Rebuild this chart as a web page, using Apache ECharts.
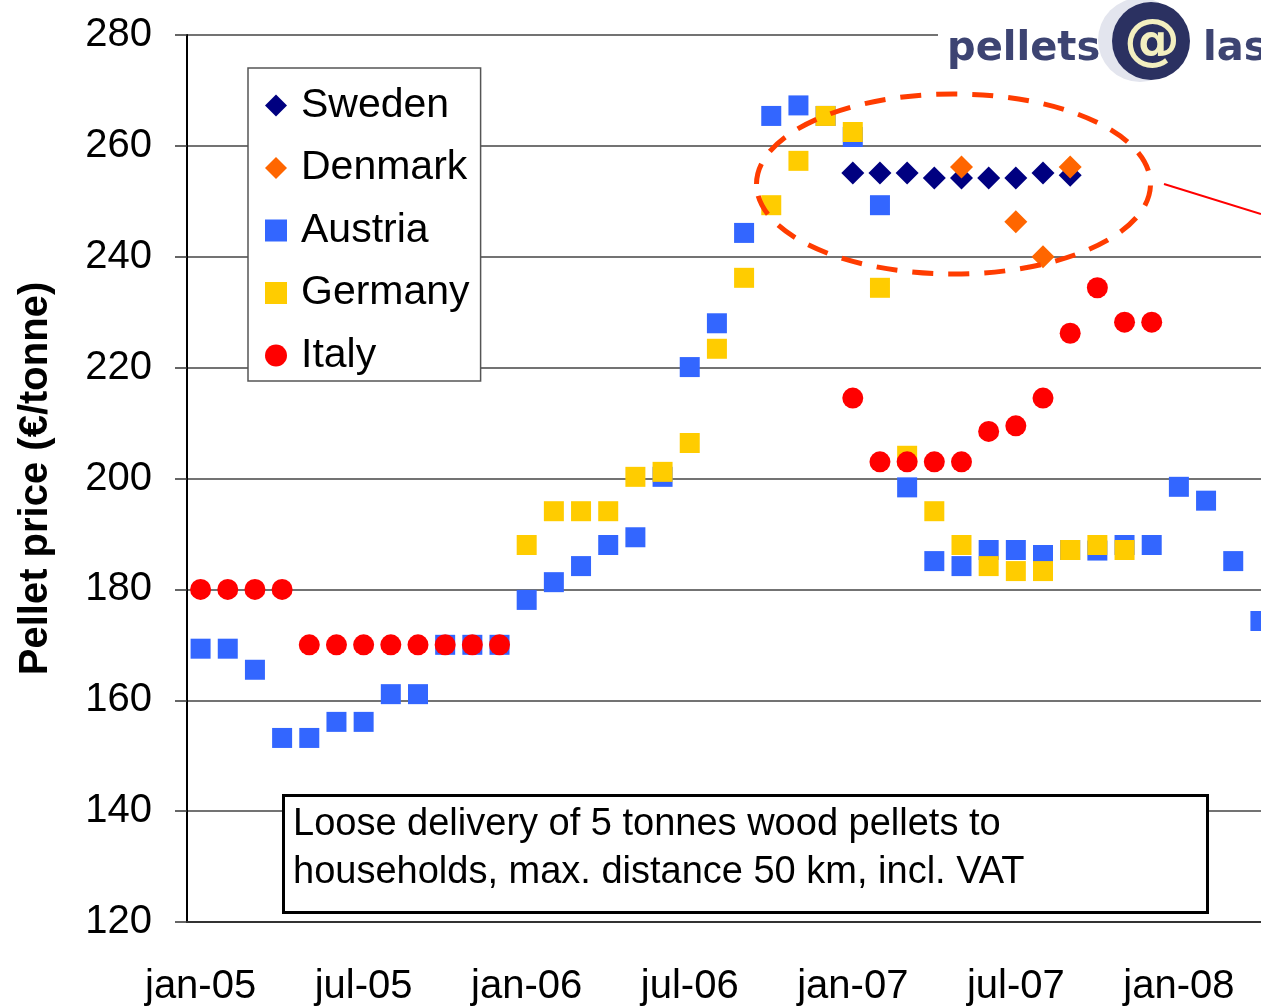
<!DOCTYPE html>
<html>
<head>
<meta charset="utf-8">
<title>Pellet price</title>
<script src="https://cdn.jsdelivr.net/npm/echarts@6/dist/echarts.min.js"></script>
<style>
html,body{margin:0;padding:0;background:#fff;}
#main{width:1261px;height:1007px;}
</style>
</head>
<body>
<div id="main"></div>
<script>
//月份类目
var months = ['jan-05','feb-05','mar-05','apr-05','may-05','jun-05','jul-05','aug-05','sep-05','oct-05','nov-05','dec-05',
	'jan-06','feb-06','mar-06','apr-06','may-06','jun-06','jul-06','aug-06','sep-06','oct-06','nov-06','dec-06',
	'jan-07','feb-07','mar-07','apr-07','may-07','jun-07','jul-07','aug-07','sep-07','oct-07','nov-07','dec-07',
	'jan-08','feb-08','mar-08','apr-08'];
//y轴刻度
var yTicks = [120, 140, 160, 180, 200, 220, 240, 260, 280];

//各国价格 (€/tonne)，null = 无数据
var sweden = [null,null,null,null,null,null,null,null,null,null,null,null,
	null,null,null,null,null,null,null,null,null,null,null,null,
	255.1,255.1,255.1,254.2,254.2,254.2,254.2,255.1,254.7,null,null,null,
	null,null,null,null];
var denmark = [null,null,null,null,null,null,null,null,null,null,null,null,
	null,null,null,null,null,null,null,null,null,null,null,null,
	null,null,null,null,256.2,null,246.3,240.0,256.2,null,null,null,
	null,null,null,null];
var austria = [169.3,169.3,165.5,153.2,153.2,156.1,156.1,161.1,161.1,170,170,170,
	178.1,181.3,184.2,188.0,189.4,200.3,220.1,228.0,244.3,265.4,267.3,265.4,
	261.6,249.3,198.4,185.1,184.2,187.1,187.1,186.2,187.1,187.0,188.0,188.0,
	198.5,196.0,185.1,174.3];
var germany = [null,null,null,null,null,null,null,null,null,null,null,null,
	188.0,194.1,194.1,194.1,200.3,201.2,206.4,223.4,236.2,249.3,257.3,265.4,
	262.5,234.4,204.1,194.1,188.0,184.2,183.3,183.3,187.1,188.0,187.1,null,
	null,null,null,null];
var italy = [180,180,180,180,170,170,170,170,170,170,170,170,
	null,null,null,null,null,null,null,null,null,null,null,null,
	214.5,203,203,203,203,208.5,209.5,214.5,226.2,234.4,228.2,228.2,
	null,null,null,null];

var FONT = '"Liberation Sans", Arial, sans-serif';

//生成散点系列
function makeSeries(name, data, symbol, size, color){
	return {
		name: name,
		type: 'scatter',
		data: data.map(function(v){ return v == null ? '-' : v; }),
		symbol: symbol,
		symbolSize: size,
		itemStyle: { color: color, opacity: 1 },
		emphasis: { disabled: true }
	};
}

var myChart = echarts.init(document.getElementById('main'));
myChart.setOption({
	animation: false,
	backgroundColor: '#fff',
	//右侧超出画布一点（原图被裁切）
	grid: { left: 187, top: 35, right: -13, bottom: 85, containLabel: false, outerBoundsMode: 'none' },
	legend: {
		orient: 'vertical',
		left: 248,
		top: 68,
		padding: [17, 11, 5, 17],
		itemGap: 21.5,
		itemWidth: 22,
		itemHeight: 22,
		selectedMode: false,
		backgroundColor: '#fff',
		borderColor: '#555',
		borderWidth: 1.5,
		textStyle: { fontFamily: FONT, fontSize: 41, color: '#000', padding: [0, 0, 0, 9], lineHeight: 40 },
		data: ['Sweden', 'Denmark', 'Austria', 'Germany', 'Italy'],
		z: 20
	},
	xAxis: {
		type: 'category',
		data: months,
		boundaryGap: true,
		axisLine: { lineStyle: { color: '#333', width: 2 } },
		axisTick: { interval: 5, length: 13, lineStyle: { color: '#333', width: 1.5 } },
		axisLabel: { interval: 5, margin: 45, fontFamily: FONT, fontSize: 40, color: '#000' },
		splitLine: { show: false }
	},
	yAxis: {
		type: 'value',
		min: yTicks[0],
		max: yTicks[yTicks.length - 1],
		interval: 20,
		name: 'Pellet price (€/tonne)',
		nameLocation: 'middle',
		nameGap: 131,
		nameTextStyle: { fontFamily: FONT, fontSize: 40, fontWeight: 'bold', color: '#000' },
		axisLine: { show: true, lineStyle: { color: '#000', width: 2 } },
		axisTick: { show: true, length: 12, lineStyle: { color: '#333', width: 1.5 } },
		axisLabel: { margin: 35, padding: [4, 0, 0, 0], fontFamily: FONT, fontSize: 40, color: '#000' },
		splitLine: { lineStyle: { color: '#444', width: 1.5 } }
	},
	series: [
		makeSeries('Sweden', sweden, 'diamond', 23, '#000080'),
		makeSeries('Denmark', denmark, 'diamond', 23, '#ff6600'),
		makeSeries('Austria', austria, 'rect', 20, '#3366ff'),
		makeSeries('Germany', germany, 'rect', 20, '#ffcc00'),
		makeSeries('Italy', italy, 'circle', 21, '#ff0000')
	],
	graphic: [
		//logo
		{ type: 'rect', shape: { x: 938, y: 0, width: 323, height: 90 }, style: { fill: '#fff' }, z: 50 },
		{ type: 'circle', shape: { cx: 1140, cy: 40, r: 42 }, style: { fill: '#e3e5ee' }, z: 51 },
		{ type: 'circle', shape: { cx: 1151, cy: 41, r: 39 }, style: { fill: '#2b3161' }, z: 52 },
		{ type: 'text', x: 1152, y: 43, style: { text: '@', font: 'bold 56px "DejaVu Sans"', fill: '#f3efc0', textAlign: 'center', textVerticalAlign: 'middle' }, z: 53 },
		{ type: 'text', x: 947, y: 50, style: { text: 'pellets', font: 'bold 40px "DejaVu Sans"', fill: '#3d4472', textVerticalAlign: 'middle' }, z: 53 },
		{ type: 'text', x: 1203, y: 50, style: { text: 'las', font: 'bold 40px "DejaVu Sans"', fill: '#3d4472', textVerticalAlign: 'middle' }, z: 53 },
		//虚线椭圆和引线
		{ type: 'ellipse', shape: { cx: 953.5, cy: 184, rx: 197, ry: 90 }, style: { fill: 'none', stroke: '#ff3c00', lineWidth: 5, lineDash: [21, 15] }, z: 60 },
		{ type: 'line', shape: { x1: 1164, y1: 184, x2: 1261, y2: 214 }, style: { stroke: '#ff0000', lineWidth: 2 }, z: 60 },
		//说明框
		{ type: 'rect', shape: { x: 283.5, y: 795.5, width: 924, height: 117 }, style: { fill: '#fff', stroke: '#000', lineWidth: 3 }, z: 60 },
		{ type: 'text', x: 293, y: 801, style: { text: 'Loose delivery of 5 tonnes wood pellets to\nhouseholds, max. distance 50 km, incl. VAT', font: '38px ' + FONT, lineHeight: 48, fill: '#000', textVerticalAlign: 'top' }, z: 61 }
	]
});
</script>
</body>
</html>
